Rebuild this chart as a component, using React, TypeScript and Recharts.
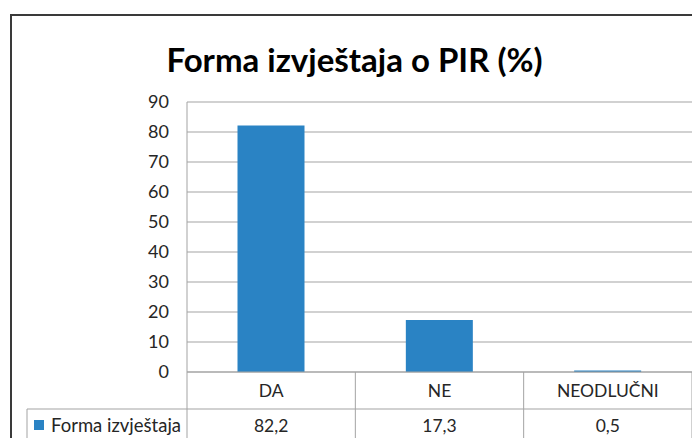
import { BarChart, Bar, XAxis, YAxis, CartesianGrid } from "recharts";

const categories = ["DA", "NE", "NEODLUČNI"];
const values = [82.2, 17.3, 0.5];
const yTicks = [0, 10, 20, 30, 40, 50, 60, 70, 80, 90];
const seriesName = "Forma izvještaja";

const data = categories.map((cat, i) => ({ cat, value: values[i] }));

const BLUE = "#2a83c4";
const LINE = "#a3a3a3";
const TEXT = "#262626";
const FONT = "Lato, 'Open Sans', sans-serif";

const fmt = (v: number) => v.toFixed(1).replace(".", ",");

interface TickProps {
  x?: number;
  y?: number;
  payload?: { value: string; index: number; offset?: number };
}

// draws one column of the data table under the axis
function TableTick({ x = 0, y = 0, payload }: TickProps) {
  if (!payload) return null;
  const idx = payload.index;
  const hw = payload.offset ?? 84;
  const left = x - hw;
  const right = x + hw;
  const row1 = y + 37;
  const row2 = y + 70;
  const last = idx === categories.length - 1;

  return (
    <g>
      <line x1={left} y1={y} x2={left} y2={row2} stroke={LINE} />
      {last && <line x1={right} y1={y} x2={right} y2={row2} stroke={LINE} />}
      <line x1={left} y1={row1} x2={right} y2={row1} stroke={LINE} />
      <line x1={left} y1={row2} x2={right} y2={row2} stroke={LINE} />
      <text x={x} y={y + 19} dy="0.35em" textAnchor="middle" fill={TEXT} fontSize={17.5} fontFamily={FONT}>
        {payload.value}
      </text>
      <text x={x} y={y + 54} dy="0.35em" textAnchor="middle" fill={TEXT} fontSize={17.5} fontFamily={FONT}>
        {fmt(values[idx])}
      </text>
      {idx === 0 && (
        <g>
          <line x1={left - 160} y1={row1} x2={left} y2={row1} stroke={LINE} />
          <line x1={left - 160} y1={row2} x2={left} y2={row2} stroke={LINE} />
          <line x1={left - 160} y1={row1} x2={left - 160} y2={row2} stroke={LINE} />
          <rect x={left - 153} y={row1 + 11} width={10} height={10} fill={BLUE} />
          <text x={left - 136} y={y + 54} dy="0.35em" fill={TEXT} fontSize={18.5} fontFamily={FONT}>
            {seriesName}
          </text>
        </g>
      )}
    </g>
  );
}

export default function App() {
  return (
    <div
      style={{
        position: "relative",
        width: 700,
        height: 446,
        overflow: "hidden",
        background: "#fff",
        margin: -8,
      }}
    >
      <div
        style={{
          position: "absolute",
          left: 10,
          top: 14,
          width: 720,
          height: 460,
          borderTop: "2px solid #3a3a3a",
          borderLeft: "2px solid #3a3a3a",
        }}
      />
      <div
        style={{
          position: "absolute",
          left: 0,
          top: 39,
          width: 709,
          textAlign: "center",
          fontFamily: FONT,
          fontWeight: 700,
          fontSize: 33,
          color: "#000",
          lineHeight: "40px",
        }}
      >
        Forma izvještaja o PIR (%)
      </div>
      <div style={{ position: "absolute", left: 0, top: 0 }}>
        <BarChart
          width={700}
          height={446}
          data={data}
          margin={{ top: 102, right: 8, left: 127, bottom: 0 }}
          barCategoryGap="30%"
        >
          <CartesianGrid vertical={false} stroke={LINE} />
          <XAxis
            dataKey="cat"
            height={74}
            interval={0}
            axisLine={{ stroke: LINE }}
            tickLine={false}
            tickSize={0}
            tickMargin={0}
            tick={<TableTick />}
          />
          <YAxis
            width={60}
            domain={[0, 90]}
            ticks={yTicks}
            interval={0}
            axisLine={{ stroke: LINE }}
            tickLine={false}
            tickSize={0}
            tickMargin={18}
            tick={{ fill: TEXT, fontSize: 18, fontFamily: FONT }}
          />
          <Bar dataKey="value" fill={BLUE} isAnimationActive={false} />
        </BarChart>
      </div>
    </div>
  );
}
